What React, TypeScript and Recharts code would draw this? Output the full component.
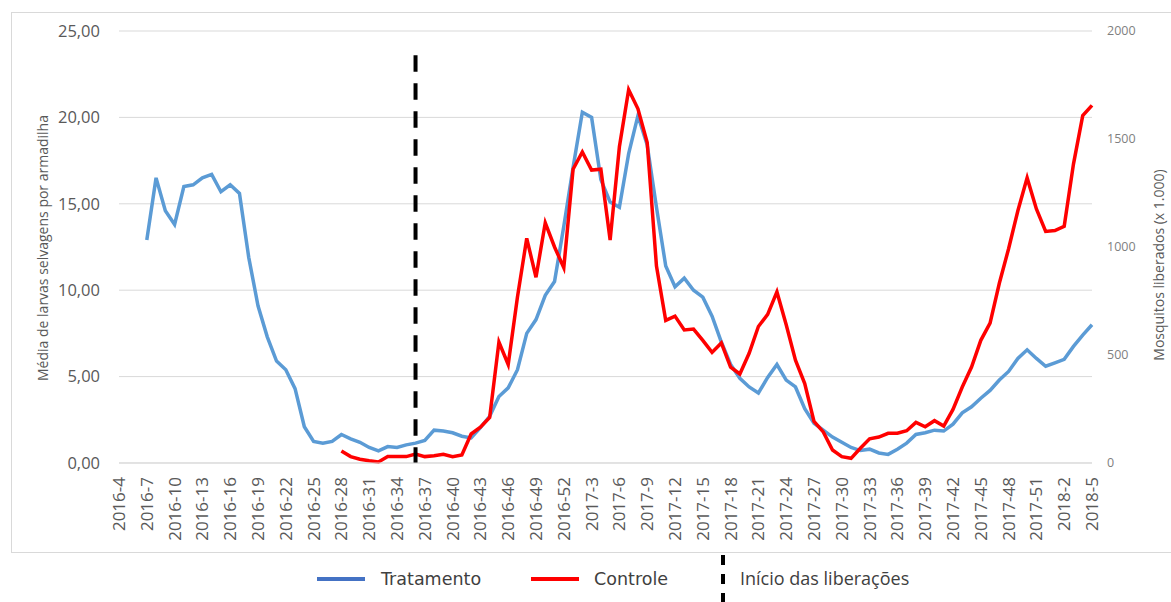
import { LineChart, Line, XAxis, YAxis, CartesianGrid, ReferenceLine } from "recharts";

// --- Data ---
const weeks: string[] = [
  "2016-4", "2016-5", "2016-6", "2016-7", "2016-8", "2016-9", "2016-10", "2016-11", "2016-12", "2016-13",
  "2016-14", "2016-15", "2016-16", "2016-17", "2016-18", "2016-19", "2016-20", "2016-21", "2016-22", "2016-23",
  "2016-24", "2016-25", "2016-26", "2016-27", "2016-28", "2016-29", "2016-30", "2016-31", "2016-32", "2016-33",
  "2016-34", "2016-35", "2016-36", "2016-37", "2016-38", "2016-39", "2016-40", "2016-41", "2016-42", "2016-43",
  "2016-44", "2016-45", "2016-46", "2016-47", "2016-48", "2016-49", "2016-50", "2016-51", "2016-52",
  "2017-1", "2017-2", "2017-3", "2017-4", "2017-5", "2017-6", "2017-7", "2017-8", "2017-9", "2017-10",
  "2017-11", "2017-12", "2017-13", "2017-14", "2017-15", "2017-16", "2017-17", "2017-18", "2017-19", "2017-20",
  "2017-21", "2017-22", "2017-23", "2017-24", "2017-25", "2017-26", "2017-27", "2017-28", "2017-29", "2017-30",
  "2017-31", "2017-32", "2017-33", "2017-34", "2017-35", "2017-36", "2017-37", "2017-38", "2017-39", "2017-40",
  "2017-41", "2017-42", "2017-43", "2017-44", "2017-45", "2017-46", "2017-47", "2017-48", "2017-49", "2017-50",
  "2017-51", "2017-52", "2018-1", "2018-2", "2018-3", "2018-4", "2018-5",
];

const tratamento: (number | null)[] = [
  null, null, null, 12.9, 16.5, 14.6, 13.8, 16.0, 16.1, 16.5,
  16.7, 15.7, 16.1, 15.6, 11.9, 9.1, 7.3, 5.9, 5.4, 4.3,
  2.1, 1.25, 1.15, 1.25, 1.65, 1.4, 1.2, 0.9, 0.7, 0.95,
  0.9, 1.05, 1.15, 1.3, 1.9, 1.85, 1.75, 1.55, 1.45, 2.05,
  2.7, 3.85, 4.35, 5.4, 7.5, 8.3, 9.7, 10.5, 13.7,
  17.1, 20.3, 20.0, 16.4, 15.1, 14.8, 17.9, 20.1, 18.4, 14.8,
  11.4, 10.2, 10.7, 10.0, 9.6, 8.5, 7.0, 5.7, 4.9, 4.4,
  4.05, 4.95, 5.7, 4.8, 4.4, 3.15, 2.3, 1.9, 1.5, 1.2,
  0.9, 0.72, 0.8, 0.58, 0.5, 0.8, 1.15, 1.65, 1.75, 1.9,
  1.85, 2.25, 2.9, 3.25, 3.75, 4.2, 4.8, 5.3, 6.05, 6.55,
  6.05, 5.6, 5.8, 6.0, 6.75, 7.4, 8.0,
];

const controle: (number | null)[] = [
  null, null, null, null, null, null, null, null, null, null,
  null, null, null, null, null, null, null, null, null, null,
  null, null, null, null, 0.7, 0.37, 0.22, 0.13, 0.06, 0.37,
  0.37, 0.37, 0.52, 0.37, 0.42, 0.5, 0.37, 0.46, 1.68, 2.07,
  2.64, 7.0, 5.7, 9.6, 13.0, 10.75, 13.9, 12.5, 11.3,
  17.0, 18.0, 16.95, 17.0, 12.9, 18.3, 21.6, 20.5, 18.55, 11.4,
  8.25, 8.5, 7.7, 7.75, 7.1, 6.4, 6.95, 5.55, 5.15, 6.35,
  7.9, 8.6, 9.9, 8.0, 5.95, 4.6, 2.4, 1.8, 0.75, 0.37,
  0.27, 0.85, 1.4, 1.5, 1.72, 1.72, 1.87, 2.35, 2.1, 2.45,
  2.14, 3.1, 4.4, 5.55, 7.1, 8.1, 10.4, 12.4, 14.6, 16.5,
  14.7, 13.4, 13.45, 13.7, 17.3, 20.1, 20.7,
];

const leftTicks = [0, 5, 10, 15, 20, 25];
const rightTicks = [0, 500, 1000, 1500, 2000];
const releaseWeek = "2016-36";
const releaseTop = 23.6;

const data = weeks.map((w, i) => ({
  week: w,
  tratamento: tratamento[i],
  controle: controle[i],
}));

const FONT = "'Open Sans', sans-serif";

const WeekTick = (props: any) => {
  const { x, y, payload } = props;
  return (
    <g transform={`translate(${x},${y})`}>
      <text
        x={0}
        y={0}
        dy="0.35em"
        textAnchor="end"
        transform="rotate(-90)"
        fill="#595959"
        fontSize={17}
        fontFamily={FONT}
      >
        {payload.value}
      </text>
    </g>
  );
};

// right axis labels drawn at the tick positions the axis gives us
const RightTick = (props: any) => {
  const { x, y, payload } = props;
  return (
    <text
      x={x}
      y={y}
      dy="0.35em"
      textAnchor="start"
      fill="#7f7f7f"
      fontSize={12.5}
      fontFamily={FONT}
    >
      {payload.value}
    </text>
  );
};

export default function App() {
  return (
    <div
      style={{
        position: "relative",
        width: 1171,
        height: 602,
        overflow: "hidden",
        background: "#fff",
      }}
    >
      <style>{`body{margin:0}`}</style>
      <div
        style={{
          position: "absolute",
          left: 11,
          top: 12,
          width: 1160,
          height: 541,
          boxSizing: "border-box",
          borderTop: "1px solid #d9d9d9",
          borderLeft: "1px solid #d9d9d9",
          borderBottom: "1px solid #d9d9d9",
        }}
      />
      <div style={{ position: "absolute", left: 0, top: 0 }}>
        <LineChart
          width={1171}
          height={560}
          data={data}
          margin={{ top: 31, right: 19, bottom: 17, left: 59 }}
        >
          <CartesianGrid
            yAxisId="left"
            vertical={false}
            stroke="#d9d9d9"
            strokeWidth={1}
          />
          <XAxis
            dataKey="week"
            interval={2}
            height={80}
            tick={<WeekTick />}
            tickLine={false}
            tickMargin={8}
            axisLine={{ stroke: "#d9d9d9" }}
          />
          <YAxis
            yAxisId="left"
            domain={[0, 25]}
            ticks={leftTicks}
            width={60}
            tickLine={false}
            axisLine={false}
            tickMargin={13}
            tickFormatter={(v: number) => v.toFixed(2).replace(".", ",")}
            tick={{ fill: "#595959", fontSize: 16.5, fontFamily: FONT }}
          />
          <YAxis
            yAxisId="right"
            orientation="right"
            type="number"
            domain={[0, 2000]}
            ticks={rightTicks}
            allowDataOverflow
            width={60}
            tickLine={false}
            axisLine={false}
            tickMargin={9}
            tick={<RightTick />}
          />
          <Line
            yAxisId="left"
            dataKey="tratamento"
            stroke="#5b9bd5"
            strokeWidth={3.5}
            dot={false}
            activeDot={false}
            isAnimationActive={false}
          />
          <Line
            yAxisId="left"
            dataKey="controle"
            stroke="#ff0000"
            strokeWidth={3.5}
            dot={false}
            activeDot={false}
            isAnimationActive={false}
          />
          {/* no released-mosquito series in the picture; this only binds the right axis */}
          <Line
            yAxisId="right"
            dataKey="liberados"
            stroke="none"
            dot={false}
            activeDot={false}
            legendType="none"
            isAnimationActive={false}
          />
          <ReferenceLine
            yAxisId="left"
            segment={[
              { x: releaseWeek, y: releaseTop },
              { x: releaseWeek, y: 0 },
            ]}
            stroke="#000"
            strokeWidth={4}
            strokeDasharray="16.5 11.5"
          />
        </LineChart>
      </div>

      {/* axis titles */}
      <div
        style={{
          position: "absolute",
          left: 42,
          top: 248,
          transform: "translate(-50%, -50%) rotate(-90deg)",
          whiteSpace: "nowrap",
          fontFamily: FONT,
          fontSize: 14,
          color: "#595959",
        }}
      >
        Média de larvas selvagens por armadilha
      </div>
      <div
        style={{
          position: "absolute",
          left: 1158,
          top: 265,
          transform: "translate(-50%, -50%) rotate(-90deg)",
          whiteSpace: "nowrap",
          fontFamily: FONT,
          fontSize: 14,
          color: "#595959",
        }}
      >
        Mosquitos liberados (x 1.000)
      </div>

      {/* legend */}
      <div style={{ position: "absolute", left: 317, top: 577, width: 48, height: 4, background: "#4472c4" }} />
      <div
        style={{
          position: "absolute",
          left: 381,
          top: 579,
          transform: "translateY(-50%)",
          fontFamily: "'DejaVu Sans', sans-serif",
          fontSize: 17.5,
          color: "#404040",
          whiteSpace: "nowrap",
        }}
      >
        Tratamento
      </div>
      <div style={{ position: "absolute", left: 531, top: 577, width: 48, height: 4, background: "#ff0000" }} />
      <div
        style={{
          position: "absolute",
          left: 594,
          top: 579,
          transform: "translateY(-50%)",
          fontFamily: "'DejaVu Sans', sans-serif",
          fontSize: 17.5,
          color: "#404040",
          whiteSpace: "nowrap",
        }}
      >
        Controle
      </div>
      <svg style={{ position: "absolute", left: 715, top: 555 }} width={16} height={47}>
        <line x1={8} y1={0} x2={8} y2={47} stroke="#000" strokeWidth={4} strokeDasharray="10 9" />
      </svg>
      <div
        style={{
          position: "absolute",
          left: 740,
          top: 578,
          transform: "translateY(-50%)",
          fontFamily: FONT,
          fontSize: 18,
          color: "#404040",
          whiteSpace: "nowrap",
        }}
      >
        Início das liberações
      </div>
    </div>
  );
}
